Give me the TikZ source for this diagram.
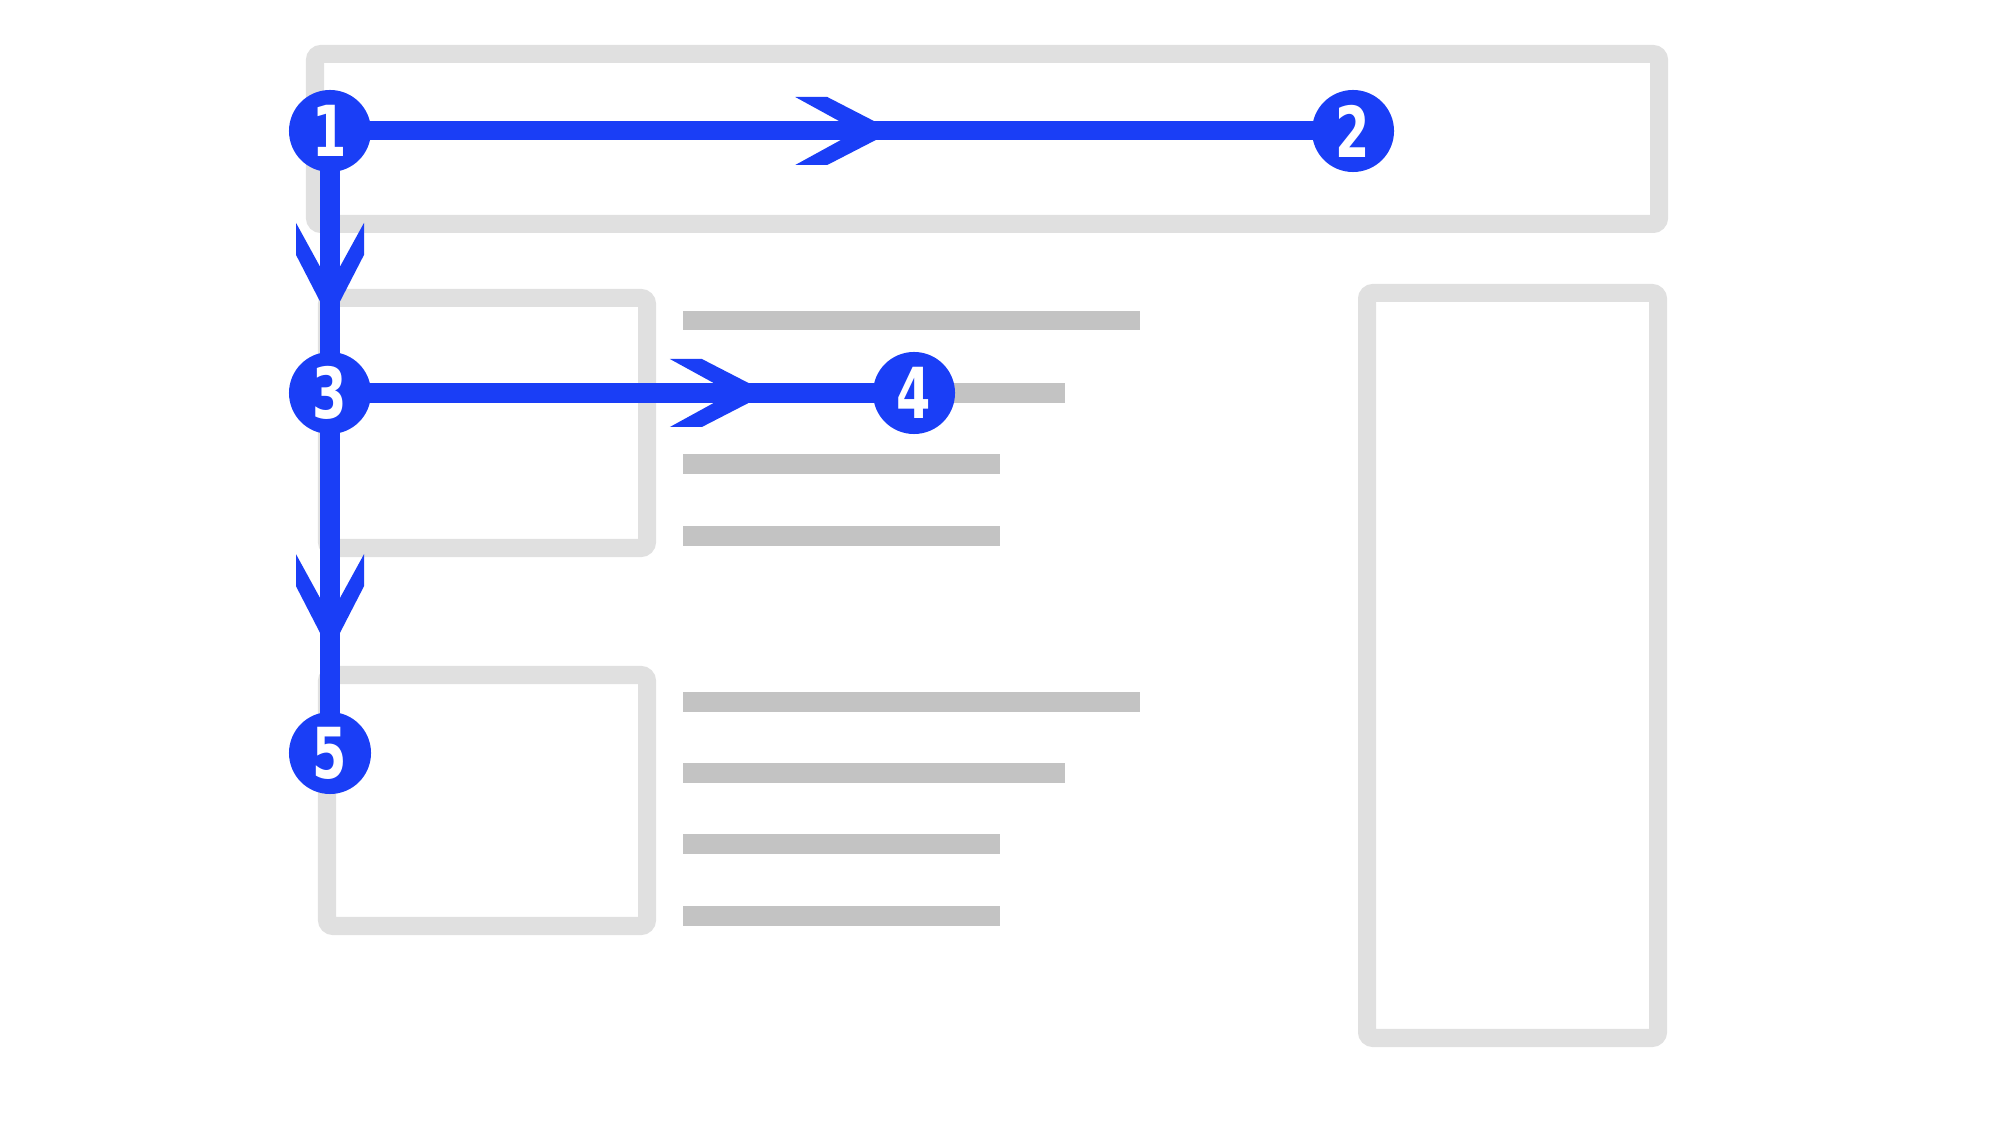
\documentclass[tikz,border=0pt]{standalone}
\usepackage{fontspec}
\newfontfamily\numfont{DejaVu Sans Condensed}
\usetikzlibrary{decorations.markings,backgrounds}
\pgfdeclarelayer{front}
\pgfsetlayers{background,main,front}
\definecolor{pathblue}{RGB}{26,62,246}
\definecolor{framegray}{RGB}{224,224,224}
\definecolor{bargray}{RGB}{195,195,195}
\newcommand\narrownum[1]{\scalebox{0.78}[1]{#1}}

\begin{document}
\begin{tikzpicture}[x=0.01cm, y=-0.01cm,
    frame/.style={draw=framegray, line width=0.18cm, rounded corners=0.6mm},
    textbar/.style={draw=bargray, line width=0.19cm},
    badge/.style={circle, fill=pathblue, minimum size=0.82cm,
      inner sep=0pt, text=white, font=\numfont\bfseries\fontsize{20}{20}\selectfont},
    flow/.style={draw=pathblue, line width=0.19cm},
    chevron/.style={postaction={decorate}, decoration={markings, mark=at position #1 with
      {\fill[pathblue] (18,0) -- (-48,34) -- (-80,34) -- (-18,0) -- (-80,-34) -- (-48,-34) -- cycle;}}}]
    \useasboundingbox (0,0) rectangle (2000,1125);

    % page layout
    \begin{scope}[on background layer]
    \fill[white] (0,0) rectangle (2000,1125);
    \draw[frame] (315,54) rectangle (1659,224);
    \draw[frame] (327,298) rectangle (647,548);
    \draw[frame] (327,675) rectangle (647,926);
    \draw[frame] (1367,293) rectangle (1658,1038);

    \foreach \y/\len in {321/1140, 393/1065, 464/1000, 536/1000, 702/1140, 773/1065, 844/1000, 916/1000}
        \draw[textbar] (683,\y) -- (\len,\y);
    \end{scope}

    % reading path
    \begin{pgfonlayer}{front}
    \node[badge] (n1) at (330,131) {\narrownum{1}};
    \node[badge] (n2) at (1353,131) {\narrownum{2}};
    \node[badge] (n3) at (330,393) {\narrownum{3}};
    \node[badge] (n4) at (914,393) {\narrownum{4}};
    \node[badge] (n5) at (330,753) {\narrownum{5}};
    \end{pgfonlayer}

    \draw[flow, chevron=0.533] (n1.center) -- (n2.center);
    \draw[flow, chevron=0.719] (n3.center) -- (n4.center);
    \draw[flow, chevron=0.656] (n1.center) -- (n3.center);
    \draw[flow, chevron=0.67] (n3.center) -- (n5.center);
\end{tikzpicture}
\end{document}
